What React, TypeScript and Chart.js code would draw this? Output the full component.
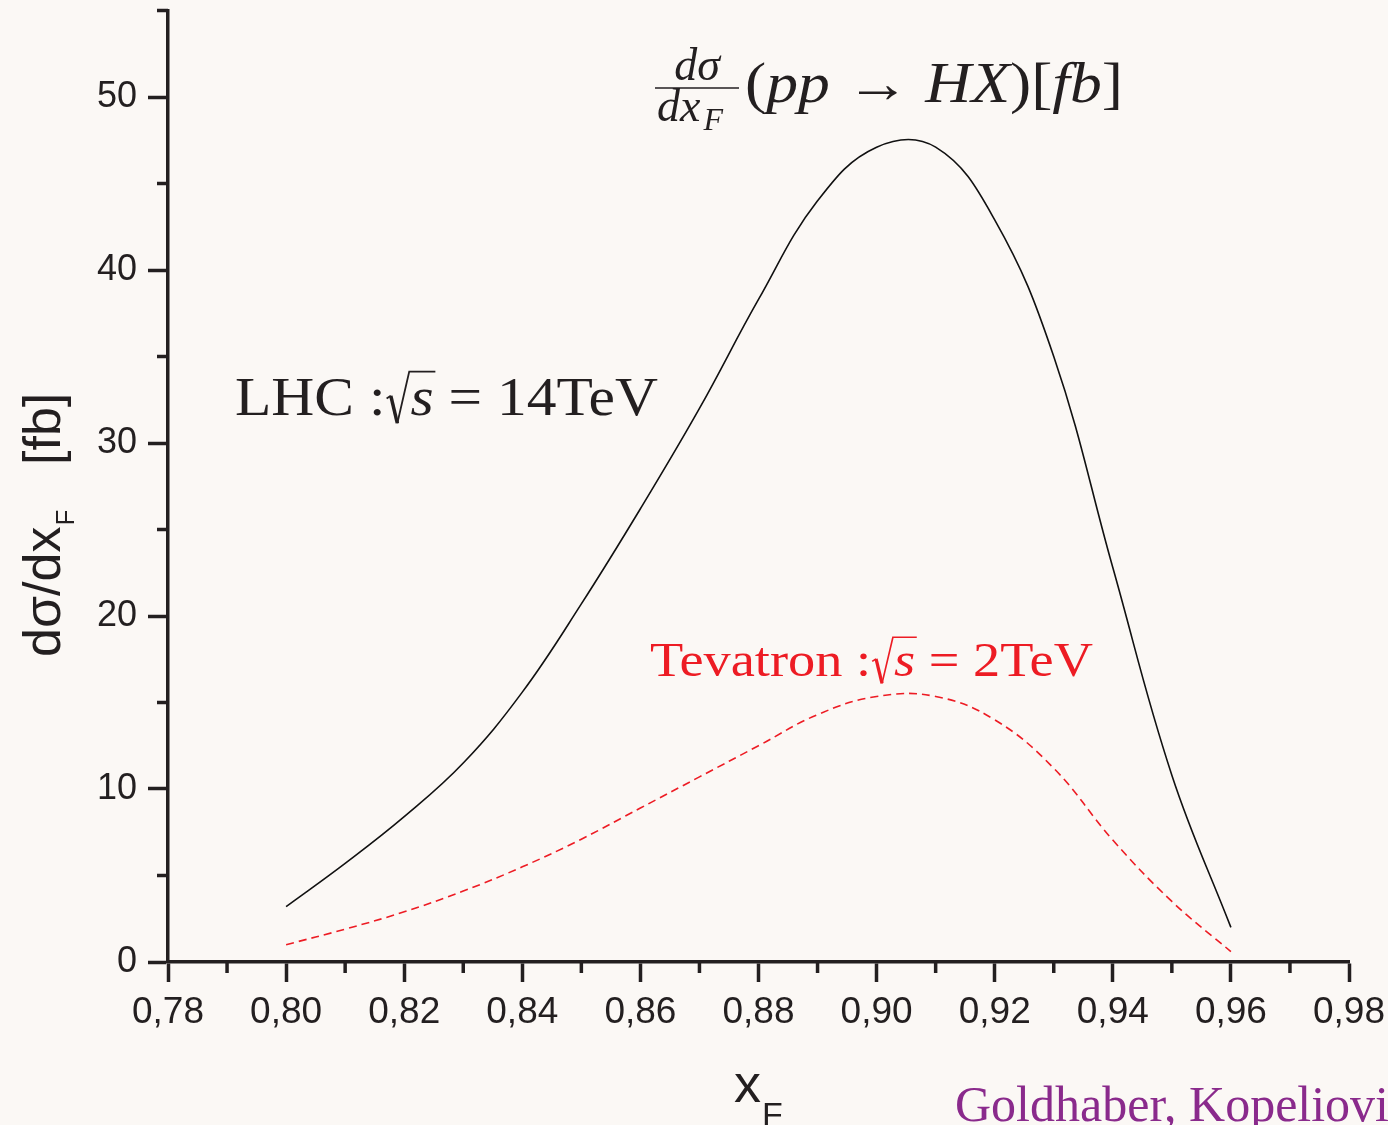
import { useEffect, useRef } from 'react';
import { Chart, registerables } from 'chart.js';

Chart.register(...registerables);

// ---- data ----
const xF = [0.80, 0.81, 0.82, 0.83, 0.84, 0.85, 0.86, 0.87, 0.88, 0.89, 0.90, 0.91, 0.92, 0.93, 0.94, 0.95, 0.96];
const lhc14TeV = [3.2, 5.7, 8.4, 11.5, 15.6, 20.7, 26.2, 32.0, 38.3, 44.0, 47.1, 47.1, 42.9, 35.0, 22.8, 10.8, 2.0];
const tevatron2TeV = [1.0, 1.9, 2.9, 4.1, 5.5, 7.1, 8.9, 10.7, 12.5, 14.3, 15.35, 15.35, 14.0, 11.2, 7.05, 3.5, 0.6];

const xMajorTicks = [0.78, 0.80, 0.82, 0.84, 0.86, 0.88, 0.90, 0.92, 0.94, 0.96, 0.98];
const xTickLabels = ['0,78', '0,80', '0,82', '0,84', '0,86', '0,88', '0,90', '0,92', '0,94', '0,96', '0,98'];
const xMinorTicks = [0.79, 0.81, 0.83, 0.85, 0.87, 0.89, 0.91, 0.93, 0.95, 0.97];
const yMajorTicks = [0, 10, 20, 30, 40, 50];
const yMinorTicks = [5, 15, 25, 35, 45, 55];

const BG = '#fbf8f5';
const AXIS = '#231f20';
const RED = '#ed1c24';
const PURPLE = '#8a2a8c';
const SANS = '"Liberation Sans", Arial, sans-serif';
const SERIF = '"Liberation Serif", "Times New Roman", serif';

type Seg = { t: string; it?: boolean; sqrt?: boolean };

function drawRich(ctx: CanvasRenderingContext2D, segs: Seg[], x0: number, base: number, size: number, target: number, color: string) {
  const fontFor = (s: Seg) => `${s.it ? 'italic ' : ''}${size}px ${SERIF}`;
  const rad = size * 0.42;
  let w = 0;
  for (const s of segs) {
    ctx.font = fontFor(s);
    w += ctx.measureText(s.t).width + (s.sqrt ? rad : 0);
  }
  const sx = target / w;
  ctx.save();
  ctx.translate(x0, base);
  ctx.scale(sx, 1);
  ctx.fillStyle = color;
  ctx.strokeStyle = color;
  ctx.textAlign = 'left';
  ctx.textBaseline = 'alphabetic';
  let cx = 0;
  for (const s of segs) {
    ctx.font = fontFor(s);
    const tw = ctx.measureText(s.t).width;
    if (s.sqrt) {
      const f = size;
      ctx.lineJoin = 'miter';
      ctx.lineWidth = f * 0.03;
      ctx.beginPath();
      ctx.moveTo(cx + 0.02 * f, -0.30 * f);
      ctx.lineTo(cx + 0.09 * f, -0.35 * f);
      ctx.stroke();
      ctx.lineWidth = f * 0.06;
      ctx.beginPath();
      ctx.moveTo(cx + 0.09 * f, -0.35 * f);
      ctx.lineTo(cx + 0.2 * f, 0.15 * f);
      ctx.stroke();
      ctx.lineWidth = f * 0.03;
      ctx.beginPath();
      ctx.moveTo(cx + 0.2 * f, 0.15 * f);
      ctx.lineTo(cx + 0.40 * f, -0.79 * f);
      ctx.lineTo(cx + rad + tw + 0.03 * f, -0.79 * f);
      ctx.stroke();
      cx += rad;
    }
    ctx.fillText(s.t, cx, 0);
    cx += tw;
  }
  ctx.restore();
}

const decorPlugin = {
  id: 'decor',
  beforeDraw(chart: any) {
    const { ctx, width, height } = chart;
    ctx.save();
    ctx.fillStyle = BG;
    ctx.fillRect(0, 0, width, height);
    ctx.restore();
  },
  afterDraw(chart: any) {
    const { ctx, chartArea } = chart;
    const xs = chart.scales.x;
    const ys = chart.scales.y;
    ctx.save();
    // minor ticks
    ctx.strokeStyle = AXIS;
    ctx.lineWidth = 3.5;
    ctx.lineCap = 'butt';
    for (const v of xMinorTicks) {
      const px = xs.getPixelForValue(v);
      ctx.beginPath();
      ctx.moveTo(px, chartArea.bottom);
      ctx.lineTo(px, chartArea.bottom + 11);
      ctx.stroke();
    }
    for (const v of yMinorTicks) {
      const py = ys.getPixelForValue(v);
      ctx.beginPath();
      ctx.moveTo(chartArea.left, py);
      ctx.lineTo(chartArea.left - 11, py);
      ctx.stroke();
    }

    // x axis title
    ctx.fillStyle = AXIS;
    ctx.textAlign = 'left';
    ctx.textBaseline = 'alphabetic';
    ctx.font = `54px ${SANS}`;
    ctx.fillText('x', 734, 1102);
    ctx.font = `34px ${SANS}`;
    ctx.fillText('F', 762, 1126);

    // y axis title (rotated)
    ctx.save();
    ctx.translate(60, 657);
    ctx.rotate(-Math.PI / 2);
    ctx.font = `52px ${SANS}`;
    const main = 'dσ/dx';
    ctx.fillText(main, 0, 0);
    const mw = ctx.measureText(main).width;
    ctx.font = `26px ${SANS}`;
    ctx.fillText('F', mw + 1, 14);
    ctx.font = `52px ${SANS}`;
    ctx.fillText('[fb]', 192, 0);
    ctx.restore();

    // title: dσ/dx_F (pp → HX)[fb]
    ctx.fillStyle = AXIS;
    ctx.strokeStyle = AXIS;
    ctx.textAlign = 'center';
    ctx.font = `italic 46px ${SERIF}`;
    ctx.fillText('dσ', 697, 80);
    ctx.lineWidth = 1.6;
    ctx.beginPath();
    ctx.moveTo(655, 88);
    ctx.lineTo(739, 88);
    ctx.stroke();
    ctx.textAlign = 'left';
    ctx.font = `italic 46px ${SERIF}`;
    ctx.fillText('dx', 657, 121);
    const dxw = ctx.measureText('dx').width;
    ctx.font = `italic 32px ${SERIF}`;
    ctx.fillText('F', 657 + dxw + 3, 130);
    drawRich(ctx, [
      { t: '(' }, { t: 'pp', it: true }, { t: ' → ' }, { t: 'HX', it: true }, { t: ')[' }, { t: 'fb', it: true }, { t: ']' },
    ], 745, 102, 56, 378, AXIS);

    // series annotations
    drawRich(ctx, [
      { t: 'LHC :' }, { t: 's', it: true, sqrt: true }, { t: ' = 14TeV' },
    ], 235, 415, 55, 423, AXIS);
    drawRich(ctx, [
      { t: 'Tevatron :' }, { t: 's', it: true, sqrt: true }, { t: ' = 2TeV' },
    ], 650, 676, 49, 443, RED);

    // credit
    ctx.fillStyle = PURPLE;
    ctx.font = `50px ${SERIF}`;
    ctx.textAlign = 'left';
    ctx.fillText('Goldhaber, Kopeliovich', 955, 1121);
    ctx.restore();
  },
};

export default function App() {
  const ref = useRef<HTMLCanvasElement | null>(null);
  useEffect(() => {
    document.body.style.margin = '0';
    document.body.style.background = BG;
    const canvas = ref.current;
    if (!canvas) return;
    const chart = new Chart(canvas, {
      type: 'line',
      data: {
        datasets: [
          {
            label: 'LHC √s = 14TeV',
            data: xF.map((x, i) => ({ x, y: lhc14TeV[i] })),
            borderColor: '#111111',
            borderWidth: 1.6,
            pointRadius: 0,
            fill: false,
            tension: 0.4,
          },
          {
            label: 'Tevatron √s = 2TeV',
            data: xF.map((x, i) => ({ x, y: tevatron2TeV[i] })),
            borderColor: RED,
            borderWidth: 1.6,
            borderDash: [8, 5],
            pointRadius: 0,
            fill: false,
            tension: 0.4,
          },
        ],
      },
      options: {
        animation: false,
        responsive: false,
        maintainAspectRatio: false,
        layout: { padding: { left: 0, top: 10.5, right: 39, bottom: 0 } },
        plugins: {
          legend: { display: false },
          tooltip: { enabled: false },
        },
        scales: {
          x: {
            type: 'linear',
            min: 0.78,
            max: 0.98,
            afterBuildTicks: (s: any) => {
              s.ticks = xMajorTicks.map((v) => ({ value: v }));
            },
            afterFit: (s: any) => {
              s.height = 163;
              s.paddingLeft = 0;
              s.paddingRight = 0;
            },
            ticks: {
              autoSkip: false,
              maxRotation: 0,
              minRotation: 0,
              padding: 9,
              color: AXIS,
              font: { family: SANS, size: 37 },
              callback: (_v: any, i: number) => xTickLabels[i],
            },
            grid: {
              display: true,
              drawOnChartArea: false,
              drawTicks: true,
              tickLength: 20,
              tickWidth: 3.5,
              tickColor: AXIS,
            },
            border: { display: true, color: AXIS, width: 3.5 },
          },
          y: {
            type: 'linear',
            min: 0,
            max: 55,
            afterBuildTicks: (s: any) => {
              s.ticks = yMajorTicks.map((v) => ({ value: v }));
            },
            afterFit: (s: any) => {
              s.width = 168;
              s.paddingTop = 0;
              s.paddingBottom = 0;
            },
            ticks: {
              padding: 11,
              color: AXIS,
              font: { family: SANS, size: 36 },
              callback: (v: any) => String(v),
            },
            grid: {
              display: true,
              drawOnChartArea: false,
              drawTicks: true,
              tickLength: 20,
              tickWidth: 3.5,
              tickColor: AXIS,
            },
            border: { display: true, color: AXIS, width: 3.5 },
          },
        },
      },
      plugins: [decorPlugin],
    });
    return () => chart.destroy();
  }, []);
  return (
    <div style={{ position: 'absolute', left: 0, top: 0, width: 1388, height: 1125, background: BG }}>
      <canvas ref={ref} width={1388} height={1125} style={{ display: 'block' }} />
    </div>
  );
}
